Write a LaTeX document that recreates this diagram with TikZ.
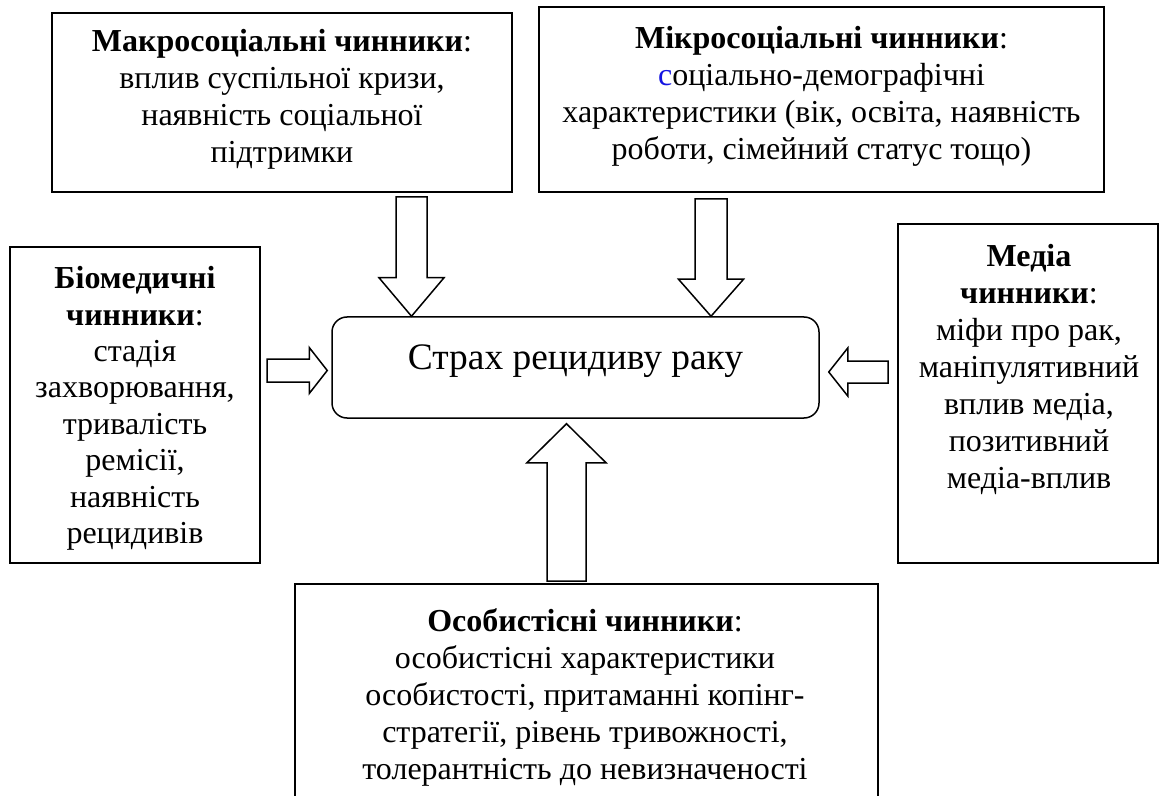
\documentclass[tikz,border=0pt]{standalone}
\usepackage{fontspec}
\setmainfont{Liberation Serif}
\usepackage{xcolor}
\usetikzlibrary{calc}
\definecolor{accentblue}{RGB}{20,20,225}

\newcommand{\fatarrow}[5]{%
	\draw[myarrow] let \p1=(#1), \p2=(#2),
		\n1={veclen(\x2-\x1,\y2-\y1)}, \n2={(\x2-\x1)/\n1}, \n3={(\y2-\y1)/\n1}
	in ({\x1-#3*\n3},{\y1+#3*\n2})
		-- ({\x2-#5*\n2-#3*\n3},{\y2-#5*\n3+#3*\n2})
		-- ({\x2-#5*\n2-#4*\n3},{\y2-#5*\n3+#4*\n2})
		-- (\p2)
		-- ({\x2-#5*\n2+#4*\n3},{\y2-#5*\n3-#4*\n2})
		-- ({\x2-#5*\n2+#3*\n3},{\y2-#5*\n3-#3*\n2})
		-- ({\x1+#3*\n3},{\y1-#3*\n2}) -- cycle;}

\begin{document}
\begin{tikzpicture}[x=0.5pt, y=-0.5pt,
		mybox/.style={draw, line width=1pt, inner sep=0pt},
		mytext/.style={align=center, inner sep=0pt, anchor=north, font=\fontsize{16}{18.5}\selectfont, execute at begin node=\strut},
		myarrow/.style={draw, line width=0.75pt, fill=white, line join=miter}
	]
	\useasboundingbox (0,0) rectangle (1160,796);

	\node[mybox, minimum width=230pt, minimum height=89.5pt] (macro) at (282,102.5) {};
	\node[mybox, minimum width=282.5pt, minimum height=92.5pt] (micro) at (821.5,99.5) {};
	\node[mybox, minimum width=125pt, minimum height=158pt] (bio) at (135,405) {};
	\node[mybox, minimum width=130pt, minimum height=169pt] (media) at (1028,393.5) {};
	\node[mybox, minimum width=291.5pt, minimum height=113pt] (pers) at (586.5,697) {};
	\node[draw, line width=0.75pt, rounded corners=7.5pt, minimum width=243.5pt, minimum height=50.5pt] (fear) at (575.5,367.5) {};

	\node[mytext] (macrotext) at (282,29) {\textbf{Макросоціальні чинники}:\\ вплив суспільної кризи,\\ наявність соціальної\\ підтримки};
	\node[mytext] (microtext) at (821.5,25.5) {\textbf{Мікросоціальні чинники}:\\ \textcolor{accentblue}{с}оціально-демографічні\\ характеристики (вік, освіта, наявність\\ роботи, сімейний статус тощо)};
	\node[mytext, font=\fontsize{16}{18.2}\selectfont] (biotext) at (135,266) {\textbf{Біомедичні}\\ \textbf{чинники}:\\ стадія\\ захворювання,\\ тривалість\\ ремісії,\\ наявність\\ рецидивів};
	\node[mytext] (mediatext) at (1029,244) {\textbf{Медіа}\\ \textbf{чинники}:\\ міфи про рак,\\ маніпулятивний\\ вплив медіа,\\ позитивний\\ медіа-вплив};
	\node[mytext] (perstext) at (585,608) {\textbf{Особистісні чинники}:\\ особистісні характеристики\\ особистості, притаманні копінг-\\ стратегії, рівень тривожності,\\ толерантність до невизначеності};
	\node[inner sep=0pt, anchor=base, font=\fontsize{18.7}{22}\selectfont] (feartext) at (575.5,369) {Страх рецидиву раку};

	\fatarrow{$(macro.south)+(129.5,4)$}{$(fear.north)+(-164,0)$}{7.75}{16.25}{19.25}
	\fatarrow{$(micro.south)+(-110.5,6)$}{$(fear.north)+(135.5,0)$}{8}{16.25}{18.5}
	\fatarrow{$(bio.east)+(6,-34.5)$}{$(fear.west)+(-4,3)$}{5.75}{11.5}{9}
	\fatarrow{$(media.west)+(-9,-21.5)$}{$(fear.east)+(9,4.5)$}{5.5}{12}{9.5}
	\fatarrow{$(pers.north)+(-20,-2)$}{$(fear.south)+(-9,5)$}{9.75}{19.75}{19.5}
\end{tikzpicture}
\end{document}
